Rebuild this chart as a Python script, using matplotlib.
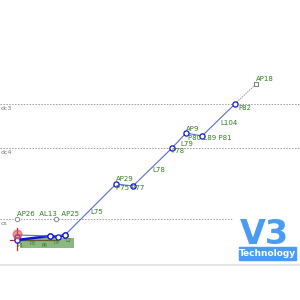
import matplotlib
matplotlib.use("Agg")
import matplotlib.pyplot as plt
from matplotlib.patches import Rectangle

# Main route vertices (x, elevation)
route_names = ["S0", "P72", "P74", "AP29", "P77", "P78", "AP9", "P81", "P82"]
route_x = [17, 50, 65, 116, 133, 172, 186, 202, 235]
route_y = [65, 64, 65, 116, 114, 152, 167, 164, 196]

# Tail (gray dashed) to AP18
tail_x = [235, 256]
tail_y = [196, 216]

# Reference levels
level_names = ["dc3", "dc4", "cs"]
level_y = [196, 152, 81]

# Support points on the cs level
ap_names = ["AP26", "AP25"]
ap_x = [17, 56]
ap_y = [81, 81]

# Labels (text, x, y)
label_text = ["AP18", "P82", "L104", "AP9", "P80 L89 P81", "L79", "P78", "L78",
              "AP29", "P75 P77", "L75", "AP26  AL13  AP25"]
label_x = [256, 238, 220, 186, 188, 180, 171, 152, 116, 116, 90, 17]
label_y = [219, 190, 175, 169, 160, 154, 147, 128, 119, 110, 86, 84]

# Cluster near start
cluster_x = [17, 17, 50, 58, 65]
cluster_y = [63, 60, 64, 63, 65]
cluster_labels = ["P1", "P3", "P6", "L9", "L2"]
cluster_lab_x = [18, 30, 42, 54, 66]
cluster_lab_y = [53, 55, 53, 56, 58]

fig = plt.figure(figsize=(3, 3), dpi=100)
ax = fig.add_axes([0, 0, 1, 1])
ax.set_xlim(0, 300)
ax.set_ylim(0, 300)
ax.axis("off")

green = "#2e7d1e"
grid_c = "#9a9a9a"

for name, ly in zip(level_names, level_y):
    ax.plot([0, 300], [ly, ly], color=grid_c, lw=0.7, ls=(0, (1.5, 1.5)), zorder=1)
    ax.text(0.5, ly - 2, name, fontsize=4.5, color="#777777", va="top", ha="left")

ax.plot([0, 300], [35, 35], color="#e2e2e2", lw=1.2, zorder=1)

# start cluster details
ax.plot([17, 17], [50, 72], color="#b03030", lw=0.9, zorder=2)
ax.plot([10, 57], [60, 60], color="#b03030", lw=0.9, zorder=2)
ax.fill_between([20, 74], [52, 52], [62, 62], color=green, alpha=0.55, lw=0, zorder=2)
ax.plot(cluster_x, cluster_y, color="#1010e0", lw=1.8, zorder=3)
ax.scatter(cluster_x, cluster_y, s=14, facecolors="white", edgecolors="#1010e0", lw=0.9, zorder=4)
ax.scatter([17], [66], s=40, color="#e05050", alpha=0.6, zorder=5)
for t, cx, cy in zip(cluster_labels, cluster_lab_x, cluster_lab_y):
    ax.text(cx, cy, t, fontsize=3.5, color=green, zorder=6)

ax.plot(route_x, route_y, color="#5a6ec8", lw=0.8, zorder=3)
ax.scatter(route_x[1:], route_y[1:], s=14, facecolors="white", edgecolors="#1010e0", lw=0.9, zorder=4)

ax.plot(tail_x, tail_y, color="#999999", lw=0.7, ls=(0, (1.5, 1)), zorder=3)
ax.scatter(tail_x[1:], tail_y[1:], s=10, marker="s", facecolors="white", edgecolors="#777777", lw=0.7, zorder=4)

ax.scatter(ap_x, ap_y, s=10, facecolors="white", edgecolors="#888888", lw=0.7, zorder=4)

for t, lx, ly in zip(label_text, label_x, label_y):
    ax.text(lx, ly, t, fontsize=5, color=green, zorder=6)

# Logo
ax.add_patch(Rectangle((233, 38), 66, 46, color="white", zorder=7))
ax.text(264, 66, "V3", fontsize=24, fontweight="bold", color="#4a9cf0",
        ha="center", va="center", zorder=8)
ax.add_patch(Rectangle((239, 40), 57, 13, color="#4a9cf0", zorder=8))
ax.text(267.5, 46.5, "Technology", fontsize=6.5, fontweight="bold", color="white",
        ha="center", va="center", zorder=9)

fig.savefig("out.png", dpi=100)
